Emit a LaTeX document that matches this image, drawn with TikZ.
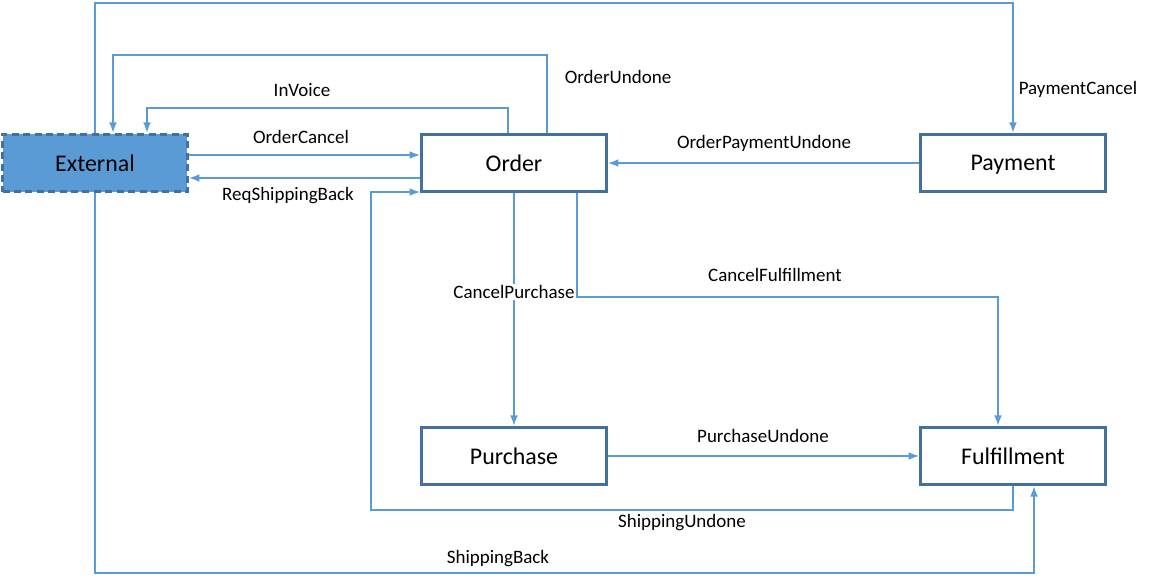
\documentclass[tikz,border=0pt]{standalone}
\usepackage{fontspec}
\setmainfont{Carlito}
\usetikzlibrary{arrows.meta,calc}
\definecolor{lineblue}{HTML}{5B9BD5}
\definecolor{boxblue}{HTML}{41719C}
\begin{document}
\begin{tikzpicture}[x=0.02cm,y=-0.02cm,
        box/.style={rectangle,draw=boxblue,line width=1.6pt,fill=white,text depth=0pt,
                    minimum width=3.7cm,minimum height=1.15cm,font=\fontsize{13.6}{16}\selectfont},
        lbl/.style={font=\fontsize{10.8}{12}\selectfont,inner sep=1pt},
        conn/.style={draw=lineblue,line width=1pt,-{Latex[length=6pt,width=4.5pt]}}]
      \useasboundingbox (0,0) rectangle (1163,582);
      \node[box,fill=lineblue,dash pattern=on 4pt off 2.5pt](ext) at(95,163){External};
      \node[box](ord) at(514,163){Order};
      \node[box](pay) at(1013,163){Payment};
      \node[box](pur) at(514,456){Purchase};
      \node[box](ful) at(1013,456){Fulfillment};
      % links around External and Order
      \draw[conn] (ext.north) -- ++(0,-130) -| (pay.north);
      \draw[conn] ($(ord.north)+(33,0)$) -- ++(0,-78) -| ($(ext.north)+(18,0)$);
      \draw[conn] ($(ord.north)+(-6,0)$) -- ++(0,-25) -| ($(ext.north)+(52,0)$);
      \draw[conn] ($(ext.east)+(0,-8)$) -- ($(ord.west)+(0,-8)$);
      \draw[conn] ($(ord.west)+(0,15)$) -- ($(ext.east)+(0,15)$);
      \draw[conn] (pay.west) -- (ord.east);
      % links to Purchase and Fulfillment
      \draw[conn] (ord.south) -- (pur.north);
      \draw[conn] ($(ord.south)+(63,0)$) -- ++(0,104) -| ($(ful.north)+(-15,0)$);
      \draw[conn] (pur.east) -- (ful.west);
      \draw[conn] (ful.south) -- ++(0,24) -| ($(ord.west)+(-49,29)$) -- ($(ord.west)+(0,29)$);
      \draw[conn] (ext.south) -- ++(0,380) -| ($(ful.south)+(21,0)$);
      % labels
      \node[lbl] at(1078,89){PaymentCancel};
      \node[lbl] at(618,77){OrderUndone};
      \node[lbl] at(302,90){InVoice};
      \node[lbl] at(301,137){OrderCancel};
      \node[lbl] at(288,196){ReqShippingBack};
      \node[lbl] at(764,143){OrderPaymentUndone};
      \node[lbl,fill=white] at(514,292){CancelPurchase};
      \node[lbl] at(775,275){CancelFulfillment};
      \node[lbl] at(763,436){PurchaseUndone};
      \node[lbl] at(682,523){ShippingUndone};
      \node[lbl] at(498,559){ShippingBack};
    \end{tikzpicture}
\end{document}
